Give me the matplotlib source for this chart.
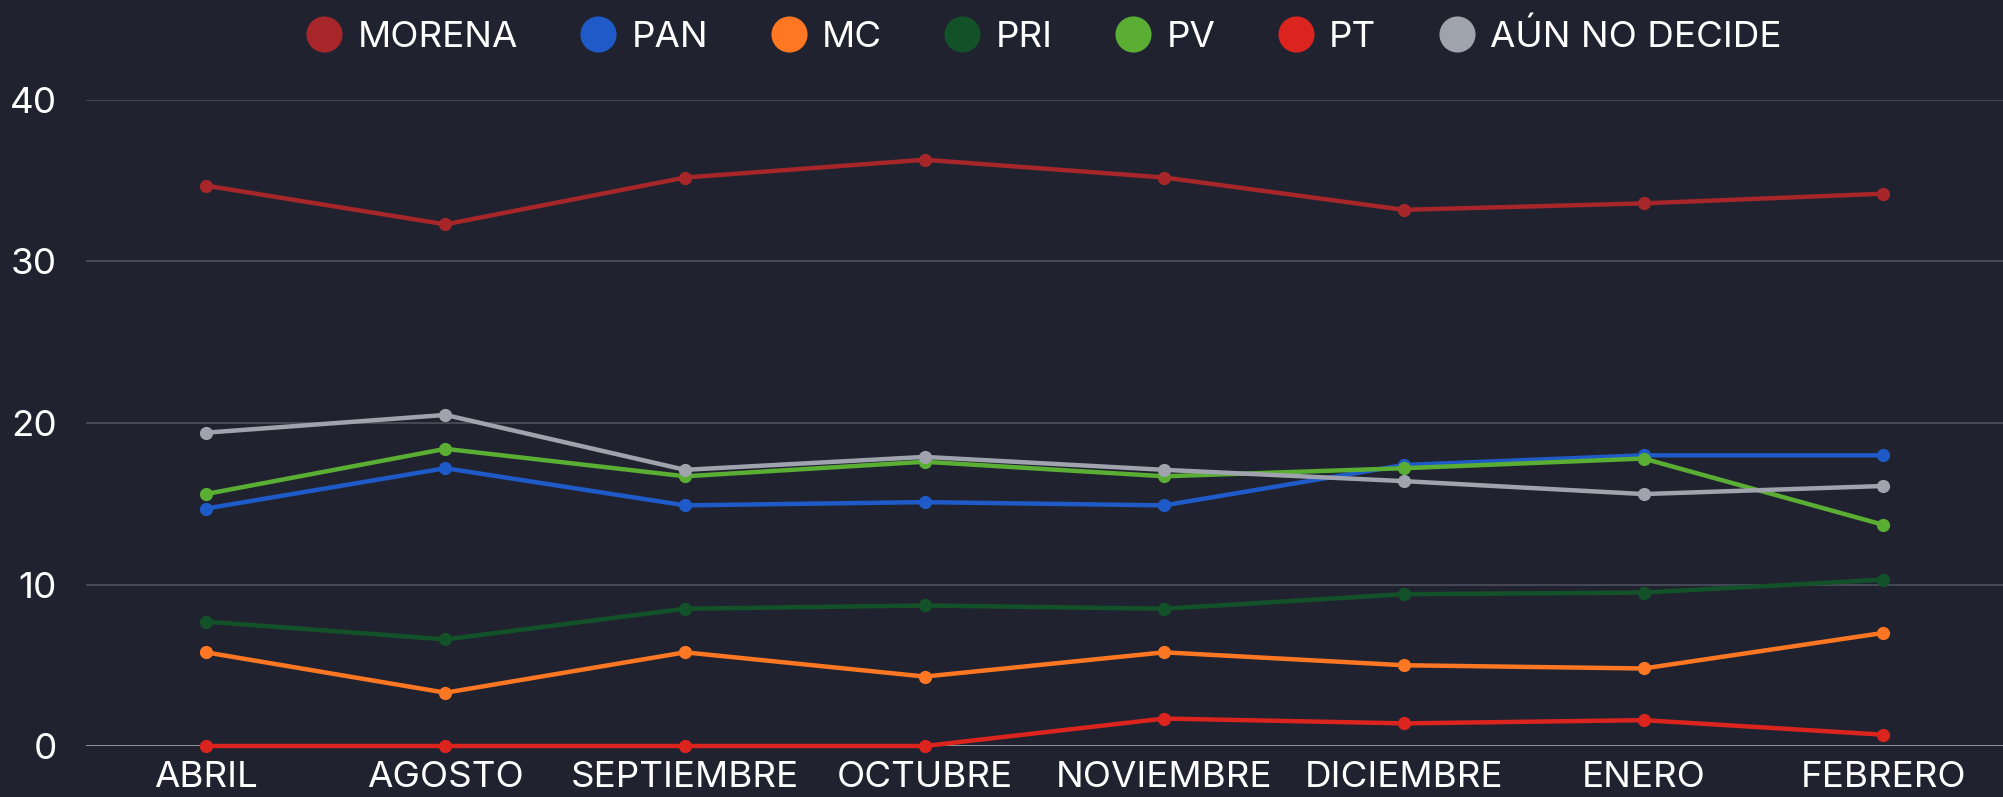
import matplotlib
matplotlib.use("Agg")
import matplotlib.pyplot as plt
from matplotlib.lines import Line2D

months = ["ABRIL", "AGOSTO", "SEPTIEMBRE", "OCTUBRE", "NOVIEMBRE", "DICIEMBRE", "ENERO", "FEBRERO"]

morena = [34.7, 32.3, 35.2, 36.3, 35.2, 33.2, 33.6, 34.2]
pan = [14.7, 17.2, 14.9, 15.1, 14.9, 17.4, 18.0, 18.0]
mc = [5.8, 3.3, 5.8, 4.3, 5.8, 5.0, 4.8, 7.0]
pri = [7.7, 6.6, 8.5, 8.7, 8.5, 9.4, 9.5, 10.3]
pv = [15.6, 18.4, 16.7, 17.6, 16.7, 17.2, 17.8, 13.7]
pt = [0.0, 0.0, 0.0, 0.0, 1.7, 1.4, 1.6, 0.7]
aun_no_decide = [19.4, 20.5, 17.1, 17.9, 17.1, 16.4, 15.6, 16.1]

series_names = ["MORENA", "PAN", "MC", "PRI", "PV", "PT", "AÚN NO DECIDE"]
series_values = [morena, pan, mc, pri, pv, pt, aun_no_decide]
series_colors = ["#A6262A", "#1F5BC8", "#FF7722", "#135228", "#5AAE33", "#DC241F", "#9FA3AD"]
y_ticks = [0, 10, 20, 30, 40]

BG = "#20232F"
plt.rcParams['font.family'] = ['Inter', 'DejaVu Sans']

fig = plt.figure(figsize=(20.03, 7.97), dpi=100, facecolor=BG)
ax = fig.add_axes([86 / 2003, 51 / 797, (2003 - 86) / 2003, 646 / 797])
ax.set_facecolor(BG)

x = list(range(len(months)))
for name, vals, col in zip(series_names, series_values, series_colors):
    ax.plot(x, vals, color=col, linewidth=3.2, marker='o', markersize=9.5,
            markeredgewidth=0, solid_capstyle='round', zorder=3, label=name,
            clip_on=False)

ax.set_xlim(-0.5, len(months) - 0.5)
ax.set_ylim(0, 40)
ax.set_yticks(y_ticks)
ax.set_xticks(x)
ax.set_xticklabels(months)

for s in ax.spines.values():
    s.set_visible(False)

for t in y_ticks:
    if t == 0:
        ax.axhline(t, color="#9A9CA3", linewidth=1.3, zorder=1)
    else:
        ax.axhline(t, color="#4A4D58", linewidth=1.3, zorder=1)

ax.tick_params(axis='y', length=0, pad=21, labelsize=26.5, labelcolor='white')
ax.tick_params(axis='x', length=0, pad=11, labelsize=26.5, labelcolor='white')

handles = [Line2D([0], [0], marker='o', linestyle='none', markersize=26,
                  markerfacecolor=c, markeredgewidth=0) for c in series_colors]
leg = ax.legend(handles, series_names, loc='center', bbox_to_anchor=(0.5, 1.0975),
                ncol=7, frameon=False, fontsize=26.5, labelcolor='white',
                handlelength=0.9, handletextpad=0.45, columnspacing=1.74,
                borderaxespad=0)

fig.savefig("out.png", dpi=100, facecolor=BG)
